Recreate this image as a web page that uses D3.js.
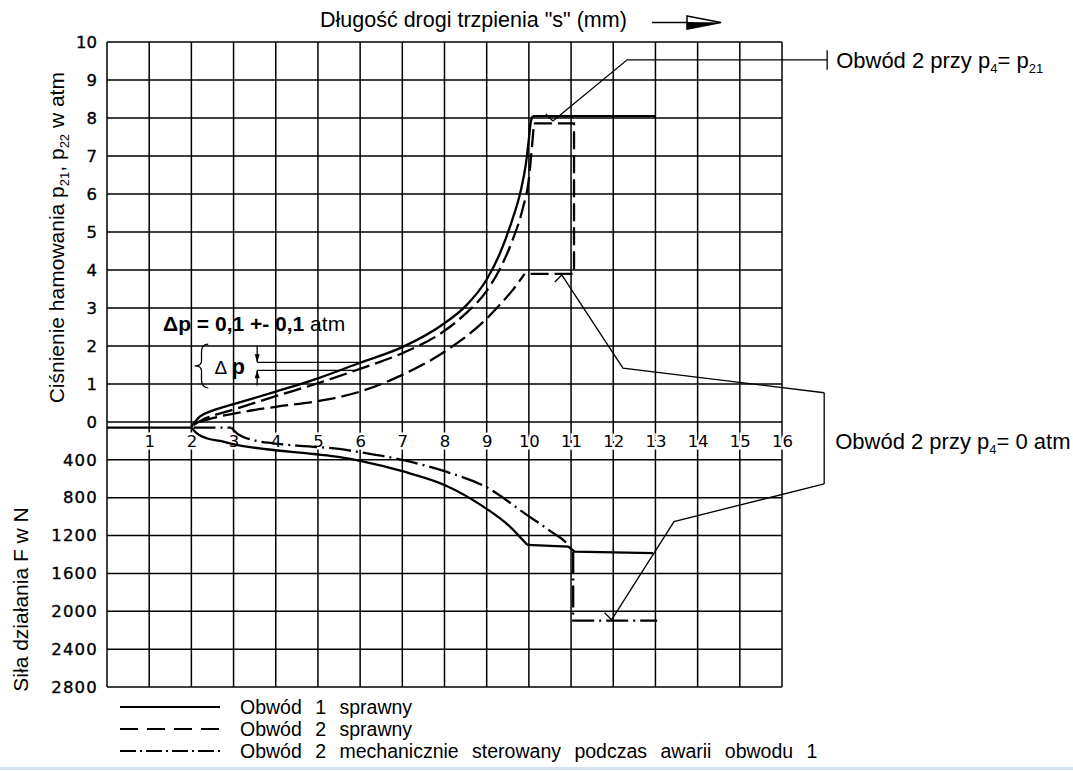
<!DOCTYPE html>
<html>
<head>
<meta charset="utf-8">
<script src="https://cdn.jsdelivr.net/npm/d3@7"></script>
<style>
	body {margin: 0; background: #fff;}
	svg {display: block; font-family: "Liberation Sans", Arial, sans-serif;}
</style>
</head>
<body>
<svg id="chart" width="1073" height="771"></svg>
<script>
// tick values
const strokeTicks = d3.range(1, 17);
const pressureTicks = d3.range(0, 11);
const forceTicks = [400, 800, 1200, 1600, 2000, 2400, 2800];

// common start line (force units, N)
const baseS = [0, 2];
const baseF = [60, 60];

// Obwód 1 sprawny - pressure p21 (atm)
const s1 = [2.0, 2.2, 2.5, 3, 4, 5, 6, 7, 8, 8.5, 9, 9.3, 9.6, 9.8, 9.93, 10.0, 10.04, 10.09];
const p1 = [-0.12, 0.14, 0.3, 0.47, 0.8, 1.15, 1.56, 1.97, 2.6, 3.05, 3.75, 4.4, 5.3, 6.05, 6.8, 7.45, 7.86, 8.05];
const s1End = [10.09, 13];
const p1End = [8.05, 8.05];

// Obwód 2 sprawny, p4 = p21 - pressure p22 (atm)
const s2a = [2.05, 2.3, 2.6, 3, 4, 5, 6, 7, 8, 8.5, 9, 9.3, 9.6, 9.85, 10.0, 10.07, 10.12];
const p2a = [-0.08, 0.08, 0.2, 0.33, 0.68, 1.02, 1.4, 1.81, 2.4, 2.85, 3.45, 4.0, 4.75, 5.6, 6.4, 7.2, 7.86];
// step back down to the p4 = 0 curve
const s2Box = [10.12, 11.07, 11.07, 9.9];
const p2Box = [7.86, 7.86, 3.9, 3.9];

// Obwód 2 sprawny, p4 = 0 - pressure p22 (atm)
const s2b = [2.2, 2.5, 3, 4, 5, 6, 7, 8, 9, 9.3, 9.6, 9.9];
const p2b = [0, 0.1, 0.22, 0.4, 0.55, 0.8, 1.24, 1.85, 2.72, 3.07, 3.45, 3.9];

// Obwód 1 sprawny - force F (N)
const sF1 = [2.0, 2.13, 2.36, 2.68, 3.07, 3.78, 4.89, 5.52, 6, 7, 8, 8.92, 9.55, 9.96];
const F1 = [60, 119, 172, 200, 243, 288, 338, 370, 410, 520, 665, 894, 1105, 1298];
const sF1End = [9.96, 10.93, 11.09, 12.94];
const F1End = [1298, 1316, 1369, 1386];

// Obwód 2 mechanicznie sterowany - force F (N)
const sF2Start = [2.05, 2.95];
const F2Start = [60, 60];
const sF2 = [2.95, 3.08, 3.46, 3.93, 4.5, 5.5, 6, 7, 8, 9, 9.95, 10.5, 10.93, 11.05];
const F2 = [60, 119, 190, 225, 250, 285, 320, 400, 520, 690, 981, 1150, 1298, 1369];
const sF2End = [11.05, 11.05, 13.04];
const F2End = [1369, 2098, 2098];

// leader lines of the two notes
const leaderS = [10.57, 12.33, 17.07];
const leaderP = [7.92, 9.53, 9.53];
const bracketTopS = [17.0, 12.23, 10.78];
const bracketTopP = [0.77, 1.42, 3.87];
const bracketBottomS = [17.0, 13.44, 11.96];
const bracketBottomF = [654, 1052, 2090];

// Δp dimension
const dpS = 3.56;
const dpLevels = [1.57, 1.36];

const legendLabels = [
	"Obwód 1 sprawny",
	"Obwód 2 sprawny",
	"Obwód 2 mechanicznie sterowany podczas awarii obwodu 1",
];

const DASH = "18,6";
const DASHDOT = "22,5,2,5";
const CURVE_W = 2.3;

const svg = d3.select("#chart");
const zip = (a, b) => a.map((v, i) => [v, b[i]]);

const x = d3.scaleLinear().domain([0, 16]).range([107, 782]);
const yP = d3.scaleLinear().domain([0, 10]).range([422, 42]);
const yF = d3.scaleLinear().domain([0, 2800]).range([422, 687]);

const lineP = d3.line().x(d => x(d[0])).y(d => yP(d[1]));
const lineF = d3.line().x(d => x(d[0])).y(d => yF(d[1]));
const curveP = d3.line().x(d => x(d[0])).y(d => yP(d[1])).curve(d3.curveMonotoneX);
const curveF = d3.line().x(d => x(d[0])).y(d => yF(d[1])).curve(d3.curveMonotoneX);

// Grid
const grid = svg.append("g").attr("stroke", "#000").attr("stroke-width", 1.5);
grid.selectAll(".v")
	.data(d3.range(0, 17))
	.join("line")
	.attr("x1", d => x(d)).attr("x2", d => x(d))
	.attr("y1", yP(10)).attr("y2", yF(2800));
grid.selectAll(".hp")
	.data(pressureTicks)
	.join("line")
	.attr("x1", x(0)).attr("x2", x(16))
	.attr("y1", d => yP(d)).attr("y2", d => yP(d));
grid.selectAll(".hf")
	.data(forceTicks)
	.join("line")
	.attr("x1", x(0)).attr("x2", x(16))
	.attr("y1", d => yF(d)).attr("y2", d => yF(d));

// Axes
const tickFont = g => g.selectAll("text")
	.attr("font-family", "'DejaVu Sans', sans-serif")
	.attr("font-size", 16.5)
	.attr("fill", "#000");
const thicken = g => g.selectAll("text").attr("stroke", "#000").attr("stroke-width", 0.35);

svg.append("g")
	.attr("transform", `translate(${x(0)},0)`)
	.call(d3.axisLeft(yP).tickValues(pressureTicks).tickSize(0).tickPadding(10))
	.call(g => g.select(".domain").remove())
	.call(tickFont)
	.call(thicken);

svg.append("g")
	.attr("transform", `translate(${x(0)},0)`)
	.call(d3.axisLeft(yF).tickValues(forceTicks).tickFormat(d3.format("d")).tickSize(0).tickPadding(9))
	.call(g => g.select(".domain").remove())
	.call(tickFont)
	.call(thicken)
	.call(g => g.selectAll("text").attr("letter-spacing", 1.2));

svg.append("g")
	.attr("transform", `translate(0,${(yP(0) + yF(400)) / 2})`)
	.call(d3.axisBottom(x).tickValues(strokeTicks).tickSize(0).tickPadding(0))
	.call(g => g.select(".domain").remove())
	.call(tickFont)
	.call(g => g.selectAll("text")
		.attr("y", 0).attr("dy", "0.36em")
		.attr("stroke", "#fff").attr("stroke-width", 5)
		.attr("paint-order", "stroke"));

// Curves
function draw(gen, data, dash, width = CURVE_W) {
	svg.append("path")
		.attr("d", gen(data))
		.attr("fill", "none")
		.attr("stroke", "#000")
		.attr("stroke-width", width)
		.attr("stroke-dasharray", dash)
		.attr("stroke-linejoin", "miter");
}

draw(lineF, zip(baseS, baseF), null);
draw(curveP, zip(s1, p1), null);
draw(lineP, zip(s1End, p1End), null);
draw(curveP, zip(s2a, p2a), DASH);
draw(lineP, zip(s2Box, p2Box), DASH);
draw(curveP, zip(s2b, p2b), DASH);
draw(curveF, zip(sF1, F1), null);
draw(lineF, zip(sF1End, F1End), null);
draw(lineF, zip(sF2Start, F2Start), DASHDOT);
draw(curveF, zip(sF2, F2), DASHDOT);
draw(lineF, zip(sF2End, F2End), DASHDOT);

// Notes: leader lines
const thin = 1.3;
const leaderPts = zip(leaderS, leaderP).map(d => [x(d[0]), yP(d[1])]);
const topPts = zip(bracketTopS, bracketTopP).map(d => [x(d[0]), yP(d[1])]);
const bottomPts = zip(bracketBottomS, bracketBottomF).map(d => [x(d[0]), yF(d[1])]);
const poly = d3.line();

function hook(p, dx, dy) {
	return [[p[0] + dx, p[1] + dy], p];
}

[leaderPts, topPts, bottomPts,
	hook(leaderPts[0], -7, -7), hook(topPts[2], -7, 7), hook(bottomPts[2], -7, -7),
	[[leaderPts[2][0], yP(9.78)], [leaderPts[2][0], yP(9.27)]],
	[topPts[0], bottomPts[0]],
].forEach(pts => {
	svg.append("path")
		.attr("d", poly(pts))
		.attr("fill", "none")
		.attr("stroke", "#000")
		.attr("stroke-width", thin);
});

function subText(sel, parts, subSize = 13) {
	parts.forEach(([t, sub], i) => {
		sel.append("tspan")
			.attr("font-size", sub ? subSize : null)
			.attr("dy", sub ? 5 : (i ? -5 : 0))
			.text(t);
	});
	return sel;
}

subText(svg.append("text")
	.attr("x", leaderPts[2][0] + 9).attr("y", leaderPts[2][1] + 8)
	.attr("font-size", 22).style("white-space", "pre"),
	[["Obwód 2 przy p", false], ["4", true], ["= p", false], ["21", true]]);

subText(svg.append("text")
	.attr("x", topPts[0][0] + 11).attr("y", (yP(0) + yF(400)) / 2 + 8)
	.attr("font-size", 22).style("white-space", "pre"),
	[["Obwód 2 przy p", false], ["4", true], ["= 0 atm", false]]);

// Δp dimension
function crossAt(xs, ys, level) {
	for (let i = 0; i < ys.length - 1; i++) {
		if (ys[i] <= level && ys[i + 1] >= level) {
			return xs[i] + (level - ys[i]) / (ys[i + 1] - ys[i]) * (xs[i + 1] - xs[i]);
		}
	}
	return xs[xs.length - 1];
}
const dpEnds = [crossAt(s1, p1, dpLevels[0]), crossAt(s2a, p2a, dpLevels[1])];
dpLevels.forEach((lv, i) => {
	svg.append("line")
		.attr("x1", x(dpS)).attr("x2", x(dpEnds[i]))
		.attr("y1", yP(lv)).attr("y2", yP(lv))
		.attr("stroke", "#000").attr("stroke-width", thin);
});
const ax = x(dpS);
[[yP(2.02), yP(dpLevels[0]), -1], [yP(0.96), yP(dpLevels[1]), 1]].forEach(([from, tip, dir]) => {
	svg.append("line")
		.attr("x1", ax).attr("x2", ax).attr("y1", from).attr("y2", tip)
		.attr("stroke", "#000").attr("stroke-width", thin);
	svg.append("path")
		.attr("d", poly([[ax - 2.5, tip + dir * 8], [ax + 2.5, tip + dir * 8], [ax, tip]]) + "Z")
		.attr("fill", "#000");
});

// brace
const bx0 = x(2.08), bx1 = x(2.4), bTop = yP(2.05), bBot = yP(0.9), bMid = (bTop + bBot) / 2;
const bxm = (bx0 + bx1) / 2;
const bp = d3.path();
bp.moveTo(bx1, bTop);
bp.quadraticCurveTo(bxm, bTop, bxm, bTop + 8);
bp.lineTo(bxm, bMid - 5);
bp.quadraticCurveTo(bxm, bMid, bx0, bMid);
bp.quadraticCurveTo(bxm, bMid, bxm, bMid + 5);
bp.lineTo(bxm, bBot - 8);
bp.quadraticCurveTo(bxm, bBot, bx1, bBot);
svg.append("path").attr("d", bp.toString()).attr("fill", "none")
	.attr("stroke", "#000").attr("stroke-width", 1.3);

const dpLabel = svg.append("text")
	.attr("x", x(2.55)).attr("y", bMid + 8)
	.attr("font-size", 22).style("white-space", "pre");
dpLabel.append("tspan").attr("font-size", 19).text("Δ ");
dpLabel.append("tspan").attr("font-weight", "bold").text("p");

const dpNote = svg.append("text")
	.attr("x", x(1.33)).attr("y", yP(2.4))
	.attr("font-size", 21).style("white-space", "pre");
dpNote.append("tspan").attr("font-weight", "bold").text("Δp = 0,1 +- 0,1");
dpNote.append("tspan").text(" atm");

// Axis titles
svg.append("text")
	.attr("x", 320).attr("y", 27)
	.attr("font-size", 21.5)
	.text("Długość drogi trzpienia \"s\" (mm)");

svg.append("line")
	.attr("x1", 652).attr("x2", 688).attr("y1", 22.5).attr("y2", 22.5)
	.attr("stroke", "#000").attr("stroke-width", 1.6);
svg.append("path")
	.attr("d", poly([[687, 16], [721, 22.5], [687, 29]]) + "Z")
	.attr("fill", "#fff").attr("stroke", "#000").attr("stroke-width", 1.5);
svg.append("path")
	.attr("d", poly([[687, 22], [721, 22.5], [687, 29]]) + "Z")
	.attr("fill", "#000");

subText(svg.append("text")
	.attr("transform", `translate(64,${(yP(9.2) + yP(0.5)) / 2}) rotate(-90)`)
	.attr("text-anchor", "middle")
	.attr("font-size", 21).style("white-space", "pre"),
	[["Ciśnienie hamowania p", false], ["21", true], [", p", false], ["22", true], [" w atm", false]]);

svg.append("text")
	.attr("transform", `translate(28,${(yF(900) + yF(2850)) / 2}) rotate(-90)`)
	.attr("text-anchor", "middle")
	.attr("font-size", 21)
	.text("Siła działania F w N");

// Legend
const dashes = [null, "18,9", "16,4,2,4"];
const legend = svg.append("g");
legendLabels.forEach((label, i) => {
	const ly = 707 + i * 22;
	legend.append("line")
		.attr("x1", 120).attr("x2", 220).attr("y1", ly).attr("y2", ly)
		.attr("stroke", "#000").attr("stroke-width", 1.8)
		.attr("stroke-dasharray", dashes[i]);
	legend.append("text")
		.attr("x", 240).attr("y", ly + 7)
		.attr("font-size", 19.5)
		.attr("word-spacing", 8)
		.text(label);
});

svg.append("rect")
	.attr("x", 0).attr("y", 767).attr("width", 1073).attr("height", 3)
	.attr("fill", "#d6e4ef");
</script>
</body>
</html>
